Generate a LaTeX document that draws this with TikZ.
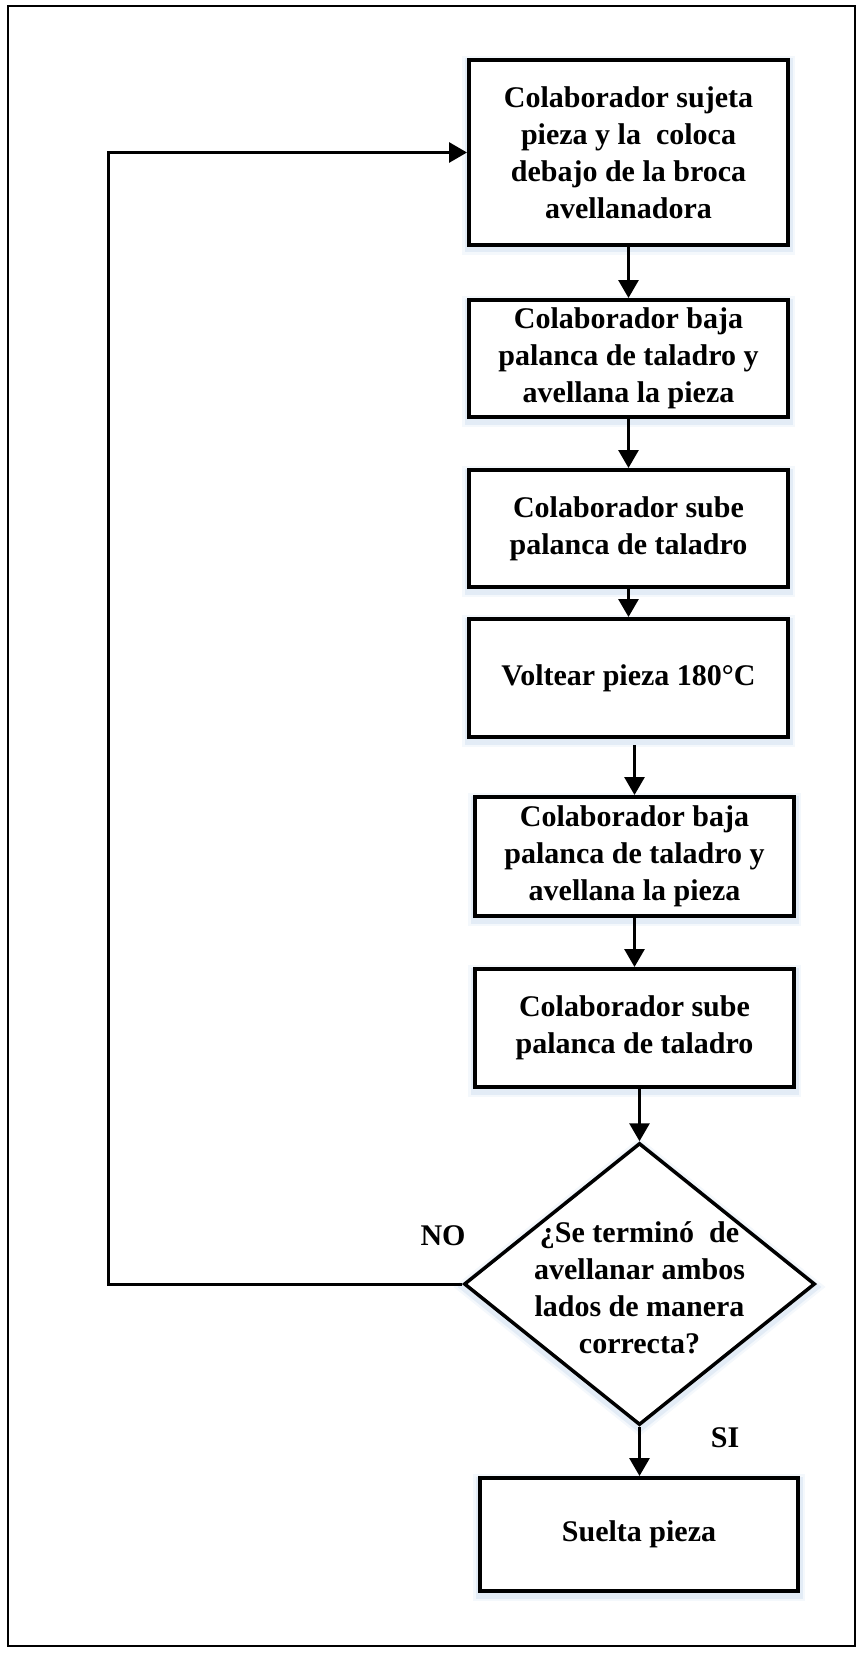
\documentclass[tikz,border=0pt]{standalone}
\usepackage{fontspec}
\setmainfont{Liberation Serif}
\usetikzlibrary{arrows.meta,shapes.geometric}
\definecolor{glow}{RGB}{196,214,236}
\begin{document}
\begin{tikzpicture}[x=1pt,y=-1pt,
  txt/.style={font=\fontsize{30}{37}\selectfont\bfseries,align=center,inner sep=0pt},
  softglow/.style={
    preaction={draw=glow,line width=14pt,opacity=0.18,transform canvas={yshift=-3pt}},
    preaction={draw=glow,line width=9pt,opacity=0.35,transform canvas={yshift=-3pt}}},
  stepbox/.style={draw,line width=4pt,fill=white,minimum width=319pt,inner sep=0pt,softglow},
  decision/.style={draw,line width=3.5pt,shape=diamond,fill=white,inner sep=0pt,
    minimum width=351pt,minimum height=282pt,softglow},
  flow/.style={line width=3pt,-{Triangle[width=20pt,length=18pt]}},
  lbl/.style={font=\fontsize{30}{37}\selectfont\bfseries,inner sep=0pt}]
  \useasboundingbox (0,0) rectangle (863,1653);
  % page frame
  \draw[line width=2pt] (8,6) rectangle (855,1646);

  % process steps
  \node[stepbox,minimum height=185pt] (b1) at (628.5,152.5) {};
  \node[txt] (t1) at (b1.center) {Colaborador sujeta\\pieza y la~ coloca\\debajo de la broca\\avellanadora};
  \node[stepbox,minimum height=117pt] (b2) at (628.5,358.5) {};
  \node[txt] (t2) at (b2.center) {Colaborador baja\\palanca de taladro y\\avellana la pieza};
  \node[stepbox,minimum height=117pt] (b3) at (628.5,528.5) {};
  \node[txt] (t3) at (b3.center) {Colaborador sube\\palanca de taladro};
  \node[stepbox,minimum height=118pt] (b4) at (628.5,678) {};
  \node[txt] (t4) at (b4.center) {Voltear pieza 180°C};
  \node[stepbox,minimum height=119pt] (b5) at (634.5,856.5) {};
  \node[txt] (t5) at (b5.center) {Colaborador baja\\palanca de taladro y\\avellana la pieza};
  \node[stepbox,minimum height=118pt] (b6) at (634.5,1028) {};
  \node[txt] (t6) at (b6.center) {Colaborador sube\\palanca de taladro};

  % decision
  \node[decision] (d) at (639.5,1284) {};
  \node[txt] (td) at (639.5,1288) {¿Se terminó~ de\\avellanar ambos\\lados de manera\\correcta?};

  % final step
  \node[stepbox,minimum width=318pt,minimum height=113pt] (b7) at (639,1534.5) {};
  \node[txt] (t7) at (b7.center) {Suelta pieza};

  % branch labels
  \node[lbl] (no) at (443,1236) {NO};
  \node[lbl] (si) at (725,1438) {SI};

  % connectors
  \coordinate (lx) at (108,0);
  \draw[flow] (b1.south) -- (b2.north);
  \draw[flow] (b2.south) -- (b3.north);
  \draw[flow] (b3.south) -- (b4.north);
  \draw[flow,shorten <=6pt] (b4.south -| b5.north) -- (b5.north);
  \draw[flow] (b5.south) -- (b6.north);
  \draw[flow] (b6.south -| d.north) -- (d.north);
  \draw[flow] (d.south) -- (d.south |- b7.north);
  \draw[flow] (d.west) -- (d.west -| lx) |- (b1.west);
\end{tikzpicture}
\end{document}
